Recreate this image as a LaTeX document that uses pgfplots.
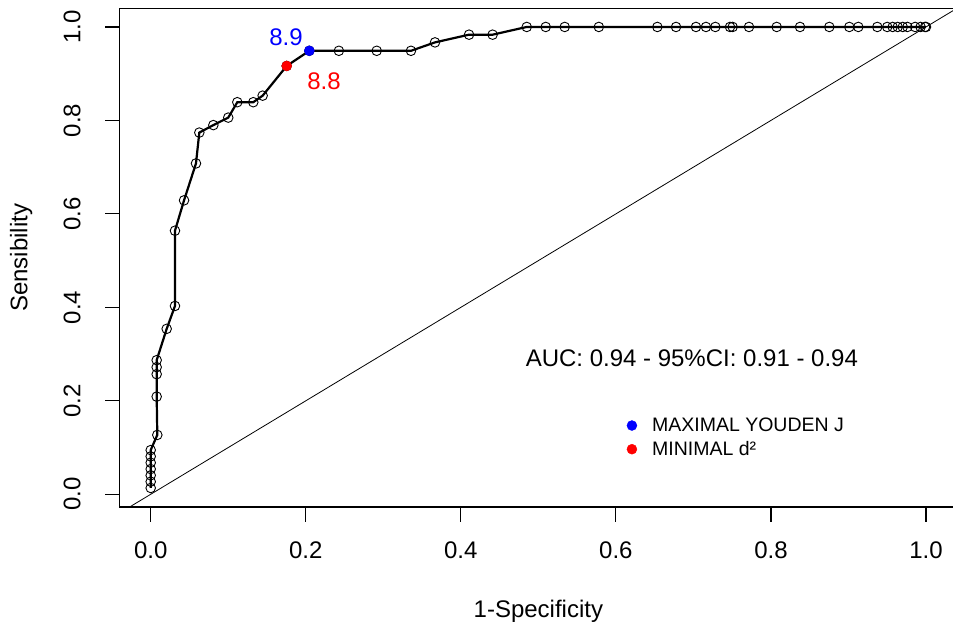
\documentclass[border=0pt]{standalone}
\usepackage{pgfplots}
\pgfplotsset{compat=1.18}
\usepackage{fontspec}
\setmainfont{Liberation Sans}

\newcommand{\mainsize}{\fontsize{24}{28}\selectfont}
\newcommand{\legsize}{\fontsize{19.5}{23}\selectfont}
% tick label boxes that carry their own outward tick mark
\newcommand{\xtickbox}[1]{\vbox{\offinterlineskip\halign{\hfil##\hfil\cr\vrule width 1.2pt height 15pt\cr\noalign{\kern 19.8pt}#1\cr}}}
\newcommand{\ytickbox}[1]{\vbox{\offinterlineskip\halign{\hfil##\hfil\cr#1\cr\noalign{\kern 24.2pt}\vrule width 1.2pt height 15pt\cr}}}

\begin{document}
\begin{tikzpicture}
% page area: the plot box starts at the origin
\useasboundingbox (-119.7pt,-118.1pt) rectangle (833.3pt,506.9pt);
\begin{axis}[
  at={(0,0)}, anchor=south west,
  scale only axis,
  width=837.3pt, height=498.4pt,
  xmin=-0.04, xmax=1.04,
  ymin=-0.027, ymax=1.0395,
  xtick={0,0.2,0.4,0.6,0.8,1.0}, ytick={0,0.2,0.4,0.6,0.8,1.0},
  xtick pos=bottom, ytick pos=left,
  major tick length=0pt,
  tick style={draw=none},
  axis line style={black, line width=1.2pt},
  /pgf/number format/assume math mode=true,
  /pgf/number format/.cd, fixed, fixed zerofill, precision=1, /pgfplots/.cd,
  ticklabel style={font=\mainsize, inner sep=0pt, outer sep=0pt},
  xticklabel={\xtickbox{\pgfmathprintnumber{\tick}}},
  yticklabel={\ytickbox{\pgfmathprintnumber{\tick}}},
  xticklabel style={anchor=north},
  yticklabel style={rotate=90, anchor=south},
  xticklabel shift=0pt,
  yticklabel shift=0pt,
  xlabel={1-Specificity},
  ylabel={Sensibility},
  every axis x label/.style={at={([yshift=-110.4pt]axis description cs:0.5,0)}, anchor=base, font=\mainsize, inner sep=0pt},
  every axis y label/.style={at={([xshift=-92.2pt]axis description cs:0,0.5)}, rotate=90, anchor=base, font=\mainsize, inner sep=0pt},
  legend style={
    at={(axis cs:0.614,0.1633)}, anchor=north west,
    draw=none, fill=none, inner sep=0pt, outer sep=0pt,
    font=\legsize, nodes={inner sep=0pt},
    column sep=15pt, row sep=8.3pt,
  },
  legend cell align=left,
  legend image code/.code={\fill (0pt,0pt) circle (5pt);},
]
% chance diagonal
\addplot[black, line width=0.8pt, forget plot] coordinates {(-0.027,-0.027) (1.0395,1.0395)};

% empirical ROC curve: (1 - specificity, sensitivity)
\addplot[black, line width=2.2pt, mark=o, mark size=4.8pt,
  mark options={line width=0.9pt, solid}, forget plot] coordinates {
  (0.0,0.0135) (0.0,0.027) (0.0,0.0405) (0.0,0.054) (0.0,0.0676) (0.0,0.081) (0.0,0.0946)
  (0.0085,0.127) (0.0077,0.209) (0.0077,0.257) (0.0077,0.272) (0.0077,0.287)
  (0.0206,0.354) (0.0313,0.403) (0.0313,0.564) (0.043,0.629)
  (0.0584,0.708) (0.0627,0.774) (0.0808,0.790) (0.100,0.806)
  (0.1117,0.839) (0.1323,0.839) (0.1444,0.853)
  (0.1754,0.9166) (0.2046,0.949) (0.2427,0.949) (0.2915,0.949) (0.3357,0.949)
  (0.3667,0.967) (0.4106,0.9835) (0.441,0.9835)
  (0.485,1.0) (0.5095,1.0) (0.534,1.0) (0.578,1.0) (0.6535,1.0) (0.6776,1.0)
  (0.7033,1.0) (0.7162,1.0) (0.7283,1.0) (0.7472,1.0) (0.7506,1.0) (0.7717,1.0)
  (0.8074,1.0) (0.8375,1.0) (0.8753,1.0) (0.9011,1.0) (0.9127,1.0) (0.9372,1.0)
  (0.950,1.0) (0.957,1.0) (0.9635,1.0) (0.970,1.0) (0.976,1.0) (0.986,1.0)
  (0.993,1.0) (0.9987,1.0) (1.0,1.0)
};

% optimal cut-offs
\addplot[blue, only marks, mark=*, mark size=5pt] coordinates {(0.2046,0.949)};
\addlegendentry{MAXIMAL YOUDEN J}
\addplot[red, only marks, mark=*, mark size=5pt] coordinates {(0.1754,0.9166)};
\addlegendentry{MINIMAL d²}

\node[blue, font=\mainsize, inner sep=0pt] at (axis cs:0.1745,0.9775) {8.9};
\node[red, font=\mainsize, inner sep=0pt] at (axis cs:0.2235,0.883) {8.8};
\node[font=\mainsize, anchor=base, inner sep=0pt] at (axis cs:0.698,0.2745) {AUC: 0.94 - 95\%CI: 0.91 - 0.94};
\end{axis}
\end{tikzpicture}
\end{document}
